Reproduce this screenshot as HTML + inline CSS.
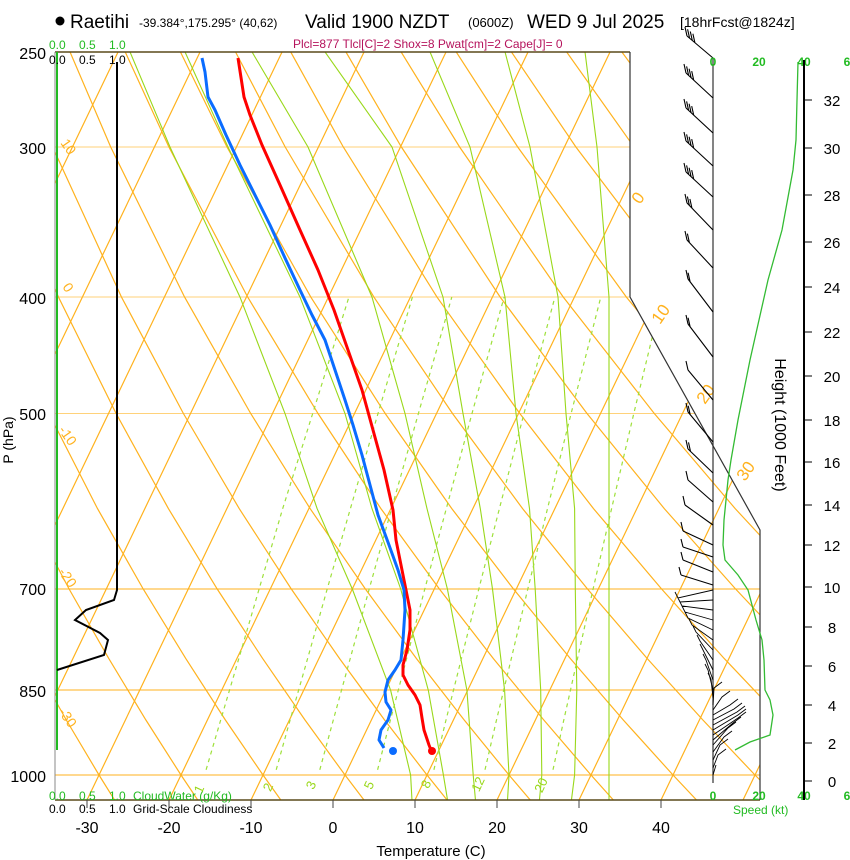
<!DOCTYPE html>
<html><head><meta charset="utf-8"><style>
html,body{margin:0;padding:0;background:#fff;}
svg{display:block;font-family:"Liberation Sans",sans-serif;}
</style></head><body>
<svg width="850" height="860" viewBox="0 0 850 860" xmlns="http://www.w3.org/2000/svg">
<defs><clipPath id="cp"><polygon points="55,52 630,52 630,297 760,530 760,800 55,800"/></clipPath></defs>
<g clip-path="url(#cp)" fill="none">
<!-- pressure lines -->
<g stroke-width="1">
<line x1="55" y1="147" x2="770" y2="147" stroke="#ffd27a"/>
<line x1="55" y1="297" x2="770" y2="297" stroke="#ffd27a"/>
<line x1="55" y1="413.5" x2="770" y2="413.5" stroke="#ffd27a"/>
<line x1="55" y1="589" x2="770" y2="589" stroke="#ffb21e"/>
<line x1="55" y1="690" x2="770" y2="690" stroke="#ffb21e"/>
<line x1="55" y1="775" x2="770" y2="775" stroke="#ffb21e"/>
</g>
<!-- isotherms -->
<path stroke="#ffb21e" stroke-width="1.2" d="M-323,800L41.8,40 M-241,800L123.8,40 M-159,800L205.8,40 M-77,800L287.8,40 M5,800L369.8,40 M87,800L451.8,40 M169,800L533.8,40 M251,800L615.8,40 M333,800L697.8,40 M415,800L779.8,40 M497,800L861.8,40 M579,800L943.8,40 M661,800L1025.8,40 M743,800L1107.8,40"/>
<!-- dry adiabats -->
<g stroke="#ffb21e" stroke-width="1.2">
<polyline points="114.8,800.4 99,775 66.3,720 31.9,658.6 -4.9,589"/>
<polyline points="198,800.4 181,775 145.9,720 108.8,658.6 69.1,589 26.7,508.6"/>
<polyline points="281.1,800.4 263,775 225.4,720 185.8,658.6 143.2,589 97.5,508.6 48.9,413.5"/>
<polyline points="364.3,800.4 345,775 305,720 262.7,658.6 217.2,589 168.4,508.6 116.1,413.5 58.5,297.1 -5.5,147"/>
<polyline points="447.4,800.4 427,775 384.6,720 339.6,658.6 291.3,589 239.2,508.6 183.4,413.5 121.5,297.1 52.6,147 14.8,51.9"/>
<polyline points="530.6,800.4 509,775 464.2,720 416.5,658.6 365.4,589 310.1,508.6 250.7,413.5 184.6,297.1 110.7,147 70,51.9"/>
<polyline points="613.7,800.4 591,775 543.8,720 493.4,658.6 439.4,589 380.9,508.6 318,413.5 247.7,297.1 168.9,147 125.2,51.9"/>
<polyline points="696.9,800.4 673,775 623.3,720 570.4,658.6 513.5,589 451.8,508.6 385.2,413.5 310.8,297.1 227,147 180.4,51.9"/>
<polyline points="780,800.4 755,775 702.9,720 647.3,658.6 587.5,589 522.6,508.6 452.5,413.5 373.9,297.1 285.2,147 235.5,51.9"/>
<polyline points="863.2,800.4 837,775 782.5,720 724.3,658.6 661.6,589 593.5,508.6 519.8,413.5 437,297.1 343.3,147 290.7,51.9"/>
<polyline points="946.3,800.4 919,775 862,720 801.2,658.6 735.6,589 664.3,508.6 587,413.5 500.2,297.1 401.4,147 345.9,51.9"/>
<polyline points="1029.5,800.4 1001,775 941.6,720 878.1,658.6 809.7,589 735.2,508.6 654.3,413.5 563.3,297.1 459.6,147 401.1,51.9"/>
<polyline points="1112.6,800.4 1083,775 1021.2,720 955.1,658.6 883.7,589 806,508.6 721.6,413.5 626.4,297.1 517.7,147 456.2,51.9"/>
<polyline points="1195.8,800.4 1165,775 1100.7,720 1032,658.6 957.8,589 876.9,508.6 788.9,413.5 689.5,297.1 575.9,147 511.4,51.9"/>
<polyline points="1031.8,589 947.7,508.6 856.1,413.5 752.6,297.1 634,147 566.6,51.9"/>
<polyline points="1105.9,589 1018.6,508.6 923.4,413.5 815.7,297.1 692.1,147 621.8,51.9"/>
</g>
<!-- moist adiabats (Y: 800.4,775,690.2,589,508.6,413.5,297.1,147,51.9) -->
<g stroke="#99d81a" stroke-width="1.1">
<polyline points="412,800.4 410.6,775 390.6,690.2 352.3,589 317.1,508.6 285,413.5 240,297.1 170,147 130,51.9"/>
<polyline points="447.6,800.4 443.4,775 428.3,690.2 400.7,589 372,508.6 345,413.5 300,297.1 228,147 185,51.9"/>
<polyline points="475.5,800.4 473.2,775 466.9,690.2 447.4,589 427,508.6 405,413.5 372,297.1 308,147 252,51.9"/>
<polyline points="507.5,800.4 509,775 504.6,690.2 492.5,589 480.3,508.6 463,413.5 443,297.1 392,147 325,51.9"/>
<polyline points="539.4,800.4 541.8,775 540.7,690.2 535.2,589 529.5,508.6 516,413.5 505,297.1 470,147 430,51.9"/>
<polyline points="571.4,800.4 574.6,775 576.8,690.2 575.3,589 574.6,508.6 566,413.5 558,297.1 530,147 505,51.9"/>
<polyline points="609,800.4 609,775 609,690.2 609,589 609,508.6 609,413.5 609,297.1 597,147 585,51.9"/>
</g>
<!-- mixing ratio (Y: 769.8,720,658.6,589,508.6,413.5,297.1) -->
<g stroke="#9ee03a" stroke-width="1.2" stroke-dasharray="4,4">
<polyline points="206.1,769.8 220.7,720 238.8,658.6 259.1,589 282.7,508.6 312.7,413.5 348.9,297.1"/>
<polyline points="276.2,769.8 290.1,720 307.6,658.6 327.2,589 350.4,508.6 378,413.5 412.4,297.1"/>
<polyline points="319.8,769.8 333.3,720 350.2,658.6 369.2,589 391.6,508.6 418.4,413.5 451.8,297.1"/>
<polyline points="377.6,769.8 390.4,720 406.6,658.6 424.8,589 446.3,508.6 472,413.5 504.1,297.1"/>
<polyline points="433.9,769.8 446,720 461.4,658.6 478.8,589 499.4,508.6 524,413.5 554.9,297.1"/>
<polyline points="485,769.8 496.5,720 511.3,658.6 527.8,589 547.5,508.6 571.1,413.5 600.8,297.1"/>
<polyline points="553,769.8 563.8,720 577.5,658.6 593.1,589 611.6,508.6 633.8,413.5 661.9,297.1"/>
</g>
</g>
<!-- mixing ratio labels -->
<g font-size="13" fill="#99d81a" text-anchor="middle">
<text x="203" y="791" transform="rotate(-65 203 791)">1</text>
<text x="272" y="789" transform="rotate(-65 272 789)">2</text>
<text x="315" y="787" transform="rotate(-65 315 787)">3</text>
<text x="373" y="787" transform="rotate(-65 373 787)">5</text>
<text x="430" y="786" transform="rotate(-65 430 786)">8</text>
<text x="482" y="786" transform="rotate(-65 482 786)">12</text>
<text x="545" y="787" transform="rotate(-65 545 787)">20</text>
</g>
<!-- frame -->
<line x1="55" y1="52" x2="630" y2="52" stroke="#5a4a1a" stroke-width="1.5"/>
<line x1="55" y1="800" x2="760" y2="800" stroke="#5a4a1a" stroke-width="1.5"/>
<polyline points="630,52 630,297 760,530 760,800" fill="none" stroke="#333" stroke-width="1.2"/>
<line x1="55" y1="52" x2="55" y2="800" stroke="#888" stroke-width="1"/>
<path stroke="#444" stroke-width="1" d="M87,800V808M169,800V808M251,800V808M333,800V808M415,800V808M497,800V808M579,800V808M661,800V808"/>
<!-- isotherm labels -->
<g font-size="17" fill="#ffb21e">
<text x="640" y="205" transform="rotate(-55 640 205)">0</text>
<text x="660" y="325" transform="rotate(-55 660 325)">10</text>
<text x="705" y="405" transform="rotate(-55 705 405)">20</text>
<text x="745" y="482" transform="rotate(-55 745 482)">30</text>
</g>
<g font-size="14" fill="#ffb21e">
<text x="60" y="143" transform="rotate(55 60 143)">10</text>
<text x="62" y="287" transform="rotate(55 62 287)">0</text>
<text x="58" y="430" transform="rotate(55 58 430)">-10</text>
<text x="58" y="572" transform="rotate(55 58 572)">-20</text>
<text x="58" y="712" transform="rotate(55 58 712)">-30</text>
</g>
<!-- cloud panel -->
<line x1="57" y1="52" x2="57" y2="750" stroke="#22bb22" stroke-width="2"/>
<polyline points="117,62 117,590 114,600 86,610 75,620 100,633 108,640 104,655 57,670" fill="none" stroke="#000" stroke-width="2"/>
<!-- profiles -->
<polyline points="238,58 244,97 250,115 262,145 280,185 300,230 318,270 334,310 348,350 362,390 373,430 384,470 393,510 396,540 402,570 406,590 410,610 410,630 407,650 403,665 403,675 408,685 415,695 420,705 422,718 424,730 429,745 431,750" fill="none" stroke="#ff0000" stroke-width="3" stroke-linejoin="round"/>
<polyline points="202,58 205,72 208,97 215,110 226,135 240,165 255,195 270,225 285,258 300,290 312,315 325,340 335,370 345,400 353,425 362,455 370,485 378,515 389,545 398,570 404,590 405,610 403,640 401,660 395,670 388,680 385,692 386,702 391,710 388,720 381,730 379,740 384,748" fill="none" stroke="#0a6cff" stroke-width="3" stroke-linejoin="round"/>
<circle cx="432" cy="751" r="4" fill="#ff0000"/>
<circle cx="393" cy="751" r="4" fill="#0a6cff"/>
<!-- wind staff -->
<line x1="713" y1="58" x2="713" y2="783" stroke="#333" stroke-width="1.2"/>
<path fill="none" stroke="#000" stroke-width="1.1" d="
M713,58L687,36 M687,36l-2,-9 M689.6,38.2l-2,-9 M692.3,40.5l-2,-9 M694.9,42.7l-2,-9
M713,98L686,73 M686,73l-2,-9 M688.6,75.4l-2,-9 M691.1,77.8l-2,-9 M693.7,80.1l-2,-9
M713,133L686,108 M686,108l-2,-9 M688.6,110.4l-2,-9 M691.1,112.8l-2,-9 M693.7,115.1l-2,-9
M713,166L686,141 M686,141l-2,-9 M688.6,143.4l-2,-9 M691.1,145.8l-2,-9 M693.7,148.1l-2,-9
M713,197L686,172 M686,172l-2,-9 M688.6,174.4l-2,-9 M691.1,176.8l-2,-9 M693.7,179.1l-2,-9
M713,230L687,203 M687,203l-2,-9 M689.4,205.5l-2,-9 M691.9,208l-2,-9
M713,268L687,240 M687,240l-2,-9 M689.4,242.6l-2,-9
M713,312L688,279 M688,279l-2,-9 M690.1,281.8l-2,-9
M713,357L688,324 M688,324l-2,-9 M690.1,326.8l-2,-9
M713,400L688,370 M688,370l-2,-9
M713,442L688,412 M688,412l-2,-9 M690.2,414.7l-2,-9
M713,473L688,449 M688,449l-2,-9 M690.5,451.4l-2,-9
M713,502L688,480 M688,480l-2,-9
M713,525L685,505 M685,505l-2,-9
M713,545L683,531 M683,531l-2,-9
M713,557L683,547 M683,547l-2,-8
M713,572L683,560 M683,560l-2,-8
M713,585L681,575 M681,575l-2,-8"/>
<path fill="none" stroke="#000" stroke-width="0.9" d="
M713,590L678,598l-3,-6 M713,600L680,602l-3,-6 M713,610L682,606l-3,-6 M713,620L685,612l-3,-6
M713,630L688,618l-3,-6 M713,640L692,625l-3,-6 M713,650L696,632l-3,-6 M713,660L700,641l-3,-6
M713,670L703,650l-3,-6 M713,680L706,660l-3,-6 M713,690L708,670l-3,-6 M713,698L711,679l-3,-6
M713,705L714,688l8,-6 M713,710L722,697l8,-6 M713,715L730,705l8,-6 M713,720L734,709l8,-6
M713,725L737,712l8,-6 M713,730L738,715l8,-6 M713,735L738,718l8,-6 M713,740L733,723l8,-6
M713,745L728,728l8,-6 M713,752L724,737l8,-6 M713,760L720,745l8,-6 M713,768L718,755l8,-6
M713,775L716,765"/>
<!-- speed curve -->
<polyline points="798,62 797,100 796,140 793,170 782,230 768,280 750,360 738,420 731,460 728,480 724,520 723,545 725,560 738,575 748,590 756,620 762,640 764,660 765,690 770,700 773,715 770,735 750,742 735,750" fill="none" stroke="#33bb33" stroke-width="1.3"/>
<!-- titles -->
<circle cx="60" cy="21" r="4.5" fill="#000"/>
<text x="70" y="28" font-size="19">Raetihi</text>
<text x="139" y="27" font-size="12">-39.384°,175.295° (40,62)</text>
<text x="305" y="28" font-size="19">Valid 1900 NZDT</text>
<text x="468" y="27" font-size="13">(0600Z)</text>
<text x="527" y="28" font-size="19">WED 9 Jul 2025</text>
<text x="680" y="27" font-size="14">[18hrFcst@1824z]</text>
<text x="293" y="48" font-size="12" fill="#b5135c">Plcl=877 Tlcl[C]=2 Shox=8 Pwat[cm]=2 Cape[J]= 0</text>
<g font-size="16" text-anchor="end">
<text x="46" y="59">250</text><text x="46" y="154">300</text><text x="46" y="304">400</text>
<text x="46" y="420">500</text><text x="46" y="595">700</text><text x="46" y="697">850</text><text x="46" y="782">1000</text>
</g>
<text transform="translate(13,440) rotate(-90)" font-size="14" text-anchor="middle">P (hPa)</text>
<g font-size="16" text-anchor="middle">
<text x="87" y="833">-30</text><text x="169" y="833">-20</text><text x="251" y="833">-10</text><text x="333" y="833">0</text>
<text x="415" y="833">10</text><text x="497" y="833">20</text><text x="579" y="833">30</text><text x="661" y="833">40</text>
</g>
<text x="431" y="856" font-size="15" text-anchor="middle">Temperature (C)</text>
<g font-size="12" fill="#22bb22">
<text x="49" y="49">0.0</text><text x="79" y="49">0.5</text><text x="109" y="49">1.0</text>
<text x="49" y="800">0.0</text><text x="79" y="800">0.5</text><text x="109" y="800">1.0</text>
<text x="133" y="800">CloudWater (g/Kg)</text>
</g>
<g font-size="12" fill="#000">
<text x="49" y="64">0.0</text><text x="79" y="64">0.5</text><text x="109" y="64">1.0</text>
<text x="49" y="813">0.0</text><text x="79" y="813">0.5</text><text x="109" y="813">1.0</text>
<text x="133" y="813">Grid-Scale Cloudiness</text>
</g>
<g font-size="12" fill="#22bb22" font-weight="bold" text-anchor="middle">
<text x="713" y="66">0</text><text x="759" y="66">20</text><text x="804" y="66">40</text><text x="847" y="66">6</text>
<text x="713" y="800">0</text><text x="759" y="800">20</text><text x="804" y="800">40</text><text x="847" y="800">6</text>
</g>
<text x="733" y="814" font-size="12" fill="#22bb22">Speed (kt)</text>
<line x1="804" y1="60" x2="804" y2="800" stroke="#000" stroke-width="2"/>
<path stroke="#000" stroke-width="1" d="M804,781h8M804,743h8M804,705h8M804,666h8M804,627h8M804,587h8M804,545h8M804,505h8M804,462h8M804,420h8M804,376h8M804,332h8M804,287h8M804,242h8M804,195h8M804,148h8M804,100h8"/>
<g font-size="15" text-anchor="middle">
<text x="832" y="787">0</text><text x="832" y="749">2</text><text x="832" y="711">4</text><text x="832" y="672">6</text>
<text x="832" y="633">8</text><text x="832" y="593">10</text><text x="832" y="551">12</text><text x="832" y="511">14</text>
<text x="832" y="468">16</text><text x="832" y="426">18</text><text x="832" y="382">20</text><text x="832" y="338">22</text>
<text x="832" y="293">24</text><text x="832" y="248">26</text><text x="832" y="201">28</text><text x="832" y="154">30</text>
<text x="832" y="106">32</text>
</g>
<text transform="translate(775,425) rotate(90)" font-size="16" text-anchor="middle">Height (1000 Feet)</text>
</svg>
</body></html>
